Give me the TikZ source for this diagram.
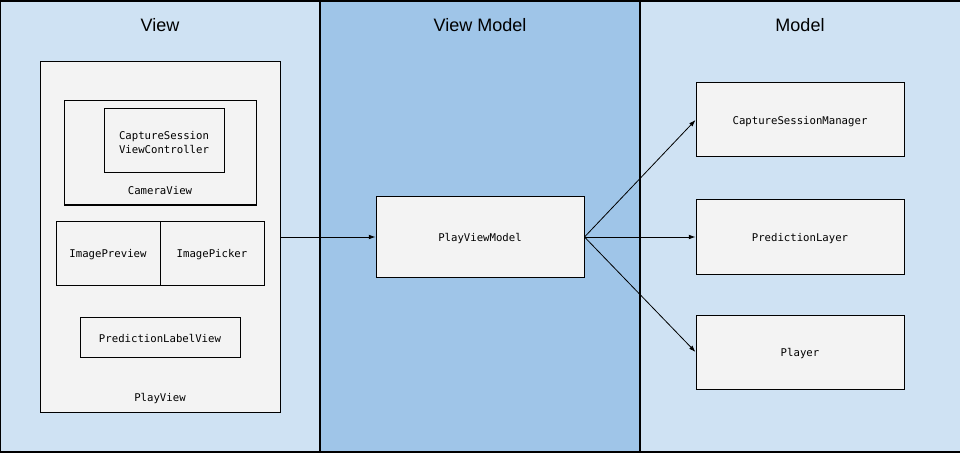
\documentclass[tikz,border=0pt]{standalone}
\usepackage{fontspec}
\setmainfont{Liberation Sans}
\newfontfamily\codefont{DejaVu Sans Mono}
\usetikzlibrary{fit,arrows.meta}
\definecolor{lightcol}{HTML}{CFE2F3}
\definecolor{midcol}{HTML}{9FC5E8}
\definecolor{boxfill}{HTML}{F3F3F3}
\begin{document}
\begin{tikzpicture}[x=0.75pt,y=-0.75pt,
  column/.style={draw=black,line width=0.8pt},
  title/.style={font=\fontsize{13.5}{16}\selectfont,text=black},
  box/.style={draw=black,fill=boxfill,line width=0.75pt,inner sep=0pt},
  code/.style={font=\codefont\fontsize{8}{10.5}\selectfont,align=center,inner sep=0pt,yshift=-1.2pt},
  conn/.style={line width=0.6pt,-{Latex[length=5pt,width=3.5pt]}}]
\useasboundingbox (0,0) rectangle (960,456);
% columns
\fill[lightcol] (0,1) rectangle (320,452);
\fill[midcol] (320,1) rectangle (640,452);
\fill[lightcol] (640,1) rectangle (962,452);
\draw[column] (962,1) -- (0.5,1) -- (0.5,452) -- (962,452);
\draw[column] (320,1) -- (320,452);
\draw[column] (640,1) -- (640,452);
\node[title] (tview) at (160,25) {View};
\node[title] (tvm) at (480,25) {View Model};
\node[title] (tmodel) at (800,25) {Model};
% View
\node[box,fit={(40,62) (280,412)}] (playview) {};
\node[code] (playviewlbl) at (160,397) {PlayView};
\node[box,fit={(64,101) (256,205)}] (cameraview) {};
\node[code] (cameraviewlbl) at (160,189) {CameraView};
\node[box,fit={(104,109) (224,173)}] (capvc) {};
\node[code] (capvclbl) at (164,141) {CaptureSession\\ViewController};
\node[box,fit={(56,221) (160,285)}] (imgprev) {};
\node[code] at (imgprev.center) {ImagePreview};
\node[box,fit={(160,221) (264,285)}] (imgpick) {};
\node[code] at (imgpick.center) {ImagePicker};
\node[box,fit={(80,317) (240,357)}] (predlabel) {};
\node[code] at (predlabel.center) {PredictionLabelView};
% View Model
\node[box,fit={(376,197) (584,277)}] (pvm) {};
\node[code] at (pvm.center) {PlayViewModel};
% Model
\node[box,fit={(696,83) (904,157)}] (csm) {};
\node[code] at (csm.center) {CaptureSessionManager};
\node[box,fit={(696,200) (904,274)}] (pl) {};
\node[code] at (pl.center) {PredictionLayer};
\node[box,fit={(696,315) (904,389)}] (player) {};
\node[code] at (player.center) {Player};
% connectors
\draw[conn] (playview.east |- pvm.west) -- (pvm.west);
\draw[conn] (pvm.east) -- (csm.west);
\draw[conn] (pvm.east) -- (pl.west);
\draw[conn] (pvm.east) -- (player.west);
\end{tikzpicture}
\end{document}
